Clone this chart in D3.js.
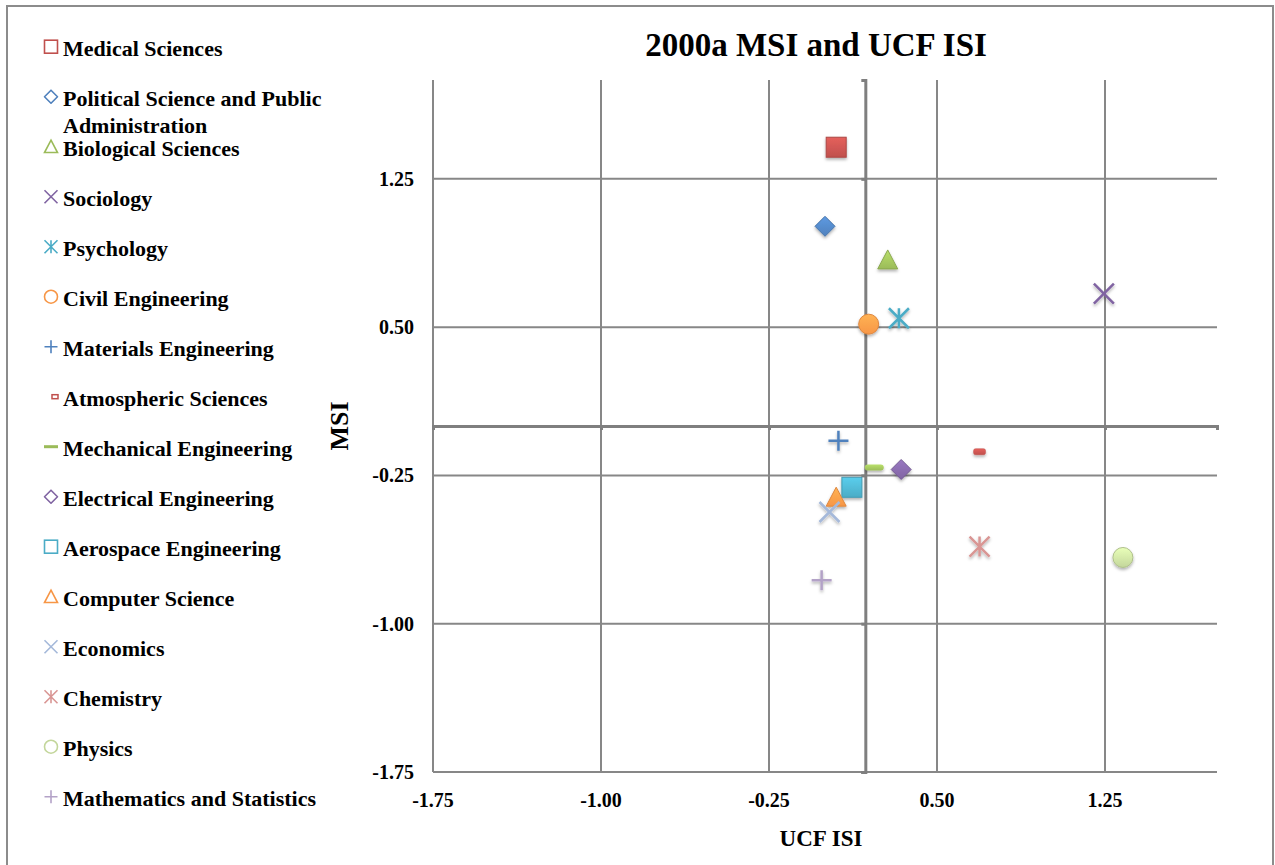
<!DOCTYPE html>
<html>
<head>
<meta charset="utf-8">
<script src="https://d3js.org/d3.v7.min.js"></script>
<style> body { margin: 0; background: #fff; } </style>
</head>
<body>
<div id="chart"></div>
<script>
// data
const categories = [
  "Medical Sciences", "Political Science and Public Administration", "Biological Sciences",
  "Sociology", "Psychology", "Civil Engineering", "Materials Engineering",
  "Atmospheric Sciences", "Mechanical Engineering", "Electrical Engineering",
  "Aerospace Engineering", "Computer Science", "Economics", "Chemistry",
  "Physics", "Mathematics and Statistics"
];
const ucfIsi = [0.05, 0.00, 0.28, 1.245, 0.33, 0.195, 0.06, 0.69, 0.22, 0.34, 0.12, 0.05, 0.02, 0.69, 1.33, -0.015];
const msi = [1.41, 1.01, 0.84, 0.67, 0.545, 0.515, -0.075, -0.13, -0.21, -0.22, -0.31, -0.36, -0.435, -0.61, -0.665, -0.78];
const xTicks = [-1.75, -1.00, -0.25, 0.50, 1.25];
const yTicks = [-1.75, -1.00, -0.25, 0.50, 1.25];
const xDomain = [-1.75, 1.75];
const yDomain = [-1.75, 1.75];
const vAxisAt = 0.18;   // value of UCF ISI where the vertical axis crosses
const hAxisAt = 0.0;    // value of MSI where the horizontal axis crosses

// marker styles (Excel 2007 look)
const shapes = ["square", "diamond", "triangle", "x", "star", "circle", "plus", "dashSmall",
  "dash", "diamond", "square", "triangle", "x", "star", "circle", "plus"];
const colors = ["#C0504D", "#4F81BD", "#9BBB59", "#8064A2", "#4BACC6", "#F79646", "#4F81BD", "#C0504D",
  "#9BBB59", "#8064A2", "#4BACC6", "#F79646", "#A5B9DA", "#D99694", "#C3D69B", "#B3A2C7"];

const W = 1275, H = 865;
const plot = { left: 433, right: 1217, top: 80, bottom: 772 };
const font = "'Liberation Serif', 'Times New Roman', serif";
const fmt = d => d.toFixed(2);   // plain hyphen minus, as in the original

const svg = d3.select("#chart").append("svg")
  .attr("width", W).attr("height", H)
  .style("font-family", font).style("font-weight", "bold");

const defs = svg.append("defs");
const sh = defs.append("filter").attr("id", "shadow")
  .attr("x", "-50%").attr("y", "-50%").attr("width", "200%").attr("height", "200%");
sh.append("feDropShadow").attr("dx", 0).attr("dy", 2).attr("stdDeviation", 1.6)
  .attr("flood-color", "#000").attr("flood-opacity", 0.3);

colors.forEach((c, i) => {
  const g = defs.append("linearGradient").attr("id", "grad" + i)
    .attr("x1", 0).attr("y1", 0).attr("x2", 0).attr("y2", 1);
  g.append("stop").attr("offset", "0%").attr("stop-color", d3.color(c).brighter(0.5));
  g.append("stop").attr("offset", "100%").attr("stop-color", c);
});

// outer frame
svg.append("rect").attr("x", 7).attr("y", 6).attr("width", 1266).attr("height", 870)
  .attr("fill", "none").attr("stroke", "#8c8c8c").attr("stroke-width", 2);

const x = d3.scaleLinear().domain(xDomain).range([plot.left, plot.right]);
const y = d3.scaleLinear().domain(yDomain).range([plot.bottom, plot.top]);

// gridlines
const grid = svg.append("g").attr("stroke", "#878787").attr("stroke-width", 2);
grid.selectAll(".gx").data(xTicks).join("line")
  .attr("x1", d => x(d)).attr("x2", d => x(d))
  .attr("y1", plot.top).attr("y2", plot.bottom);
grid.selectAll(".gy").data(yTicks).join("line")
  .attr("x1", plot.left).attr("x2", plot.right)
  .attr("y1", d => y(d)).attr("y2", d => y(d));

// axes through the crossing values
const hAxis = svg.append("g").attr("transform", `translate(0,${y(hAxisAt)})`)
  .call(d3.axisBottom(x).tickValues(xTicks).tickSize(4).tickFormat(""));
const vAxis = svg.append("g").attr("transform", `translate(${x(vAxisAt)},0)`)
  .call(d3.axisLeft(y).tickValues(yTicks).tickSize(4).tickFormat(""));
[hAxis, vAxis].forEach(a => {
  a.select(".domain").attr("stroke", "#7f7f7f").attr("stroke-width", 3);
  a.selectAll(".tick line").attr("stroke", "#7f7f7f").attr("stroke-width", 3);
});

// tick labels
svg.append("g").selectAll("text").data(xTicks).join("text")
  .attr("x", d => x(d)).attr("y", plot.bottom + 35)
  .attr("text-anchor", "middle").attr("font-size", 20)
  .text(fmt);
svg.append("g").selectAll("text").data(yTicks).join("text")
  .attr("x", 414).attr("y", d => y(d) + 7)
  .attr("text-anchor", "end").attr("font-size", 20)
  .text(fmt);

// axis titles
svg.append("text").attr("x", 821).attr("y", 846).attr("text-anchor", "middle")
  .attr("font-size", 23).text("UCF ISI");
svg.append("text").attr("transform", "translate(348,426) rotate(-90)")
  .attr("text-anchor", "middle").attr("font-size", 26).text("MSI");

// title
svg.append("text").attr("x", 816).attr("y", 56).attr("text-anchor", "middle")
  .attr("font-size", 33).text("2000a MSI and UCF ISI");

function drawMarker(g, shape, s, color, fill, sw) {
  const h = s / 2;
  const paint = sel => fill
    ? sel.attr("fill", fill).attr("stroke", d3.color(color).darker(0.3)).attr("stroke-width", 1)
    : sel.attr("fill", "none").attr("stroke", color).attr("stroke-width", sw);
  switch (shape) {
    case "square":
      paint(g.append("rect").attr("x", -h).attr("y", -h).attr("width", s).attr("height", s)); break;
    case "diamond":
      paint(g.append("path").attr("d", `M0,${-h}L${h},0L0,${h}L${-h},0Z`).attr("stroke-linejoin", "round")); break;
    case "triangle":
      paint(g.append("path").attr("d", `M0,${-h}L${h},${h * 0.9}L${-h},${h * 0.9}Z`)); break;
    case "circle":
      paint(g.append("circle").attr("r", h)); break;
    case "x":
      g.append("path").attr("d", `M${-h},${-h}L${h},${h}M${h},${-h}L${-h},${h}`)
        .attr("stroke", color).attr("stroke-width", sw).attr("fill", "none"); break;
    case "star":
      g.append("path").attr("d", `M${-h},${-h}L${h},${h}M${h},${-h}L${-h},${h}M0,${-h}L0,${h}`)
        .attr("stroke", color).attr("stroke-width", sw).attr("fill", "none"); break;
    case "plus":
      g.append("path").attr("d", `M${-h},0L${h},0M0,${-h}L0,${h}`)
        .attr("stroke", color).attr("stroke-width", sw).attr("fill", "none"); break;
    case "dash":
      g.append("rect").attr("x", -h).attr("y", -3).attr("width", s).attr("height", 6).attr("rx", 3)
        .attr("fill", fill ? fill : color); break;
    case "dashSmall":
      g.append("rect").attr("x", -h * 0.6).attr("y", -3).attr("width", s * 0.6).attr("height", 6).attr("rx", 2)
        .attr("fill", fill ? fill : "none").attr("stroke", color).attr("stroke-width", fill ? 0.5 : 2); break;
  }
}

// points
const pts = svg.append("g").attr("filter", "url(#shadow)");
categories.forEach((c, i) => {
  const g = pts.append("g").attr("transform", `translate(${x(ucfIsi[i])},${y(msi[i])})`);
  const s = shapes[i] === "dash" ? 19 : 20;
  drawMarker(g, shapes[i], s, colors[i], `url(#grad${i})`, 2.5);
});

// legend
const leg = svg.append("g");
categories.forEach((c, i) => {
  const base = 55.7 + 50 * i;
  const g = leg.append("g");
  const m = g.append("g").attr("transform", `translate(${shapes[i] === "dashSmall" ? 55 : 51},${base - 9})`);
  if (shapes[i] === "dash") {
    m.append("rect").attr("x", -7).attr("y", -1.5).attr("width", 14).attr("height", 3).attr("fill", colors[i]);
  } else if (shapes[i] === "dashSmall") {
    m.append("rect").attr("x", -3).attr("y", -2).attr("width", 6).attr("height", 4)
      .attr("fill", "none").attr("stroke", colors[i]).attr("stroke-width", 1.5);
  } else {
    drawMarker(m, shapes[i], 13, colors[i], null, 1.6);
  }
  const t = g.append("text").attr("x", 63).attr("y", base).attr("font-size", 22);
  // wrap long names like the original
  const words = c.split(" ");
  let line = [], tsp = t.append("tspan").attr("x", 63);
  words.forEach(w => {
    line.push(w);
    tsp.text(line.join(" "));
    if (tsp.node().getComputedTextLength() > 275 && line.length > 1) {
      line.pop();
      tsp.text(line.join(" "));
      line = [w];
      tsp = t.append("tspan").attr("x", 63).attr("dy", 27).text(w);
    }
  });
});
</script>
</body>
</html>
